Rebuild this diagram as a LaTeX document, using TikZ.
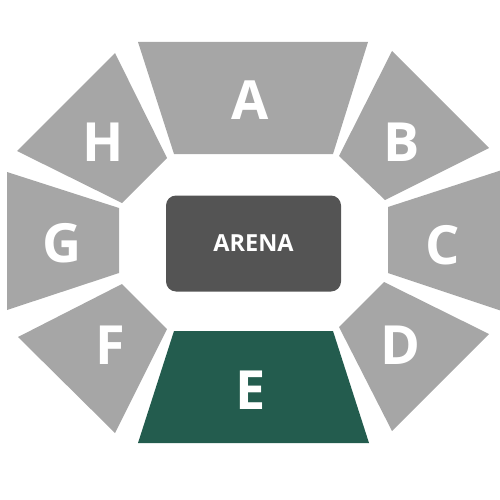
\documentclass[tikz,border=0pt]{standalone}
\usepackage{fontspec}
\setmainfont{Open Sans}
\definecolor{seatgray}{HTML}{A6A6A6}
\definecolor{arenagray}{HTML}{545454}
\definecolor{seatgreen}{HTML}{235C4E}
\begin{document}
\begin{tikzpicture}[x=1pt,y=-1pt,
  seat/.style={fill=seatgray,draw=none},
  lbl/.style={text=white,font=\fontsize{54}{54}\selectfont\bfseries,inner sep=0pt}]
\useasboundingbox (0,0) rectangle (500,500);
\clip (0,0) rectangle (500,500);
% sections
\fill[seat] (138,42) -- (368,42) -- (333,154) -- (174,154) -- cycle;
\fill[seat] (392,51) -- (489,148) -- (385,200) -- (339,156) -- cycle;
\fill[seat] (388,207) -- (502,170) -- (502,311) -- (388,273) -- cycle;
\fill[seat] (384,282) -- (489,334) -- (392,431) -- (339,327) -- cycle;
\fill[fill=seatgreen] (174,331) -- (333,331) -- (369,443) -- (138,443) -- cycle;
\fill[seat] (122,284) -- (167,329) -- (115,433) -- (18,337) -- cycle;
\fill[seat] (7,172) -- (119,208) -- (119,273) -- (7,310) -- cycle;
\fill[seat] (115,53) -- (167,158) -- (122,203) -- (17,151) -- cycle;
% arena
\node[fill=arenagray,rounded corners=10pt,minimum width=175pt,minimum height=96pt,inner sep=0pt,
  text=white,font=\fontsize{23.5}{23.5}\selectfont\bfseries] (arena) at (253.5,243.5) {ARENA};
% labels
\node[lbl] (la) at (250,100) {A};
\node[lbl] (lb) at (402,142) {B};
\node[lbl] (lc) at (443,245) {C};
\node[lbl] (ld) at (400,345) {D};
\node[lbl] (le) at (251,390) {E};
\node[lbl] (lf) at (110,345) {F};
\node[lbl] (lg) at (62,243) {G};
\node[lbl] (lh) at (103,142) {H};
\end{tikzpicture}
\end{document}
